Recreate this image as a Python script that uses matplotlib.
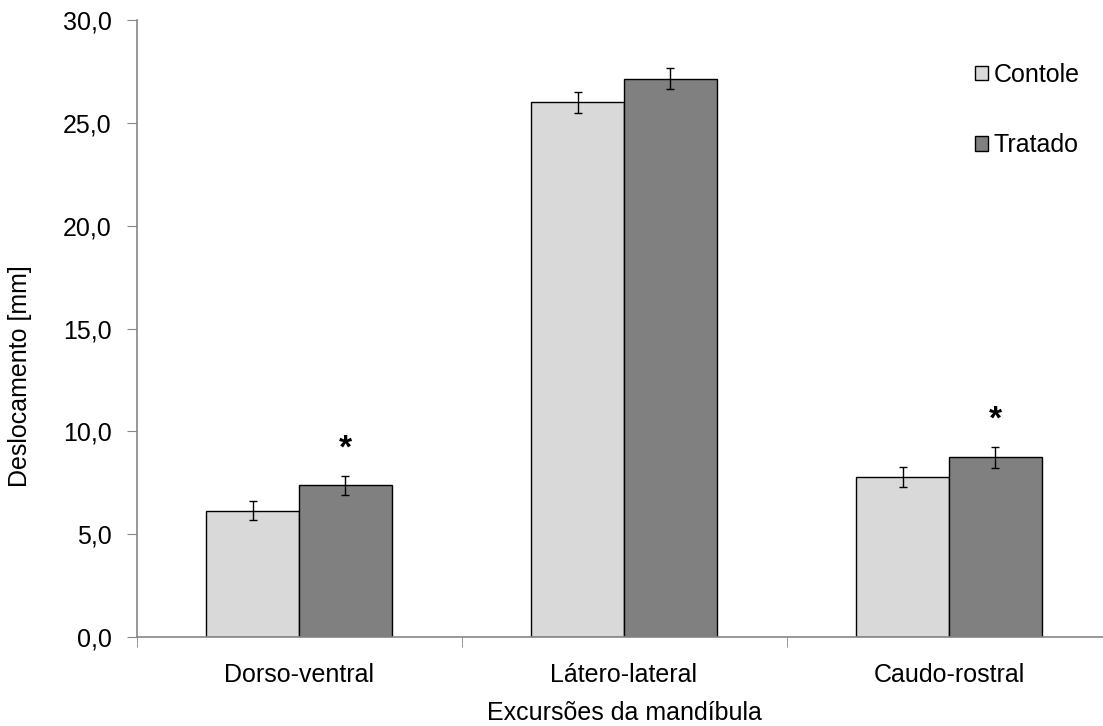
import numpy as np
import matplotlib
matplotlib.use("Agg")
import matplotlib.pyplot as plt
from matplotlib.ticker import FuncFormatter, FixedLocator
from matplotlib.patches import Patch

plt.rcParams['font.family'] = ['Liberation Sans', 'DejaVu Sans']
plt.rcParams['font.size'] = 18

# data
categories = ["Dorso-ventral", "Látero-lateral", "Caudo-rostral"]
controle = [6.15, 26.0, 7.78]
controle_err = [0.48, 0.5, 0.48]
tratado = [7.38, 27.15, 8.74]
tratado_err = [0.46, 0.5, 0.5]
significant = [True, False, True]

fig = plt.figure(figsize=(11.03, 7.26), dpi=100)
# axes extend a little past the right edge, as in the original
ax = fig.add_axes([136.5 / 1103, 89 / 726, 975 / 1103, 617 / 726])

x = np.arange(len(categories))
w = 0.286
err_kw = dict(ecolor="black", elinewidth=1, capsize=3, capthick=1)
ax.bar(x - w / 2, controle, w, yerr=controle_err, color="#d9d9d9",
       edgecolor="black", linewidth=1, error_kw=err_kw, label="Contole")
ax.bar(x + w / 2, tratado, w, yerr=tratado_err, color="#808080",
       edgecolor="black", linewidth=1, error_kw=err_kw, label="Tratado")

# significance marks
for i, sig in enumerate(significant):
    if sig:
        ax.annotate("*", (x[i] + w / 2, tratado[i] + tratado_err[i]),
                    xytext=(0, 19.5), textcoords="offset points",
                    ha="center", va="center", fontsize=24, fontweight="bold")

ax.set_xlim(-0.5, 2.5)
ax.set_ylim(0, 30)
ax.set_yticks(np.arange(0, 31, 5))
ax.yaxis.set_major_formatter(FuncFormatter(lambda v, p: f"{v:.1f}".replace(".", ",")))
ax.set_xticks(x)
ax.set_xticklabels(categories)
ax.xaxis.set_minor_locator(FixedLocator([-0.5, 0.5, 1.5, 2.5]))
ax.tick_params(axis="x", which="major", length=0, pad=19)
ax.tick_params(axis="x", which="minor", length=7, color="#868686", direction="out")
ax.tick_params(axis="y", length=7, color="#868686", direction="out", pad=11)

for s in ["top", "right"]:
    ax.spines[s].set_visible(False)
for s in ["left", "bottom"]:
    ax.spines[s].set_color("#868686")
    ax.spines[s].set_linewidth(1.2)

ax.set_xlabel("Excursões da mandíbula", va="center")
ax.xaxis.set_label_coords(0.5, (637 - 713) / 617)
ax.set_ylabel("Deslocamento [mm]", va="center")
ax.yaxis.set_label_coords((20 - 136.5) / 975, (637 - 376) / 617)

handles = [Patch(facecolor="#d9d9d9", edgecolor="black", linewidth=1),
           Patch(facecolor="#808080", edgecolor="black", linewidth=1)]
fig.legend(handles, ["Contole", "Tratado"], loc="upper left",
           bbox_to_anchor=(975 / 1103, 1 - 63 / 726), frameon=False,
           borderpad=0, borderaxespad=0, handlelength=0.52, handleheight=0.52,
           handletextpad=0.24, labelspacing=1.85)

fig.savefig("out.png", dpi=100)
